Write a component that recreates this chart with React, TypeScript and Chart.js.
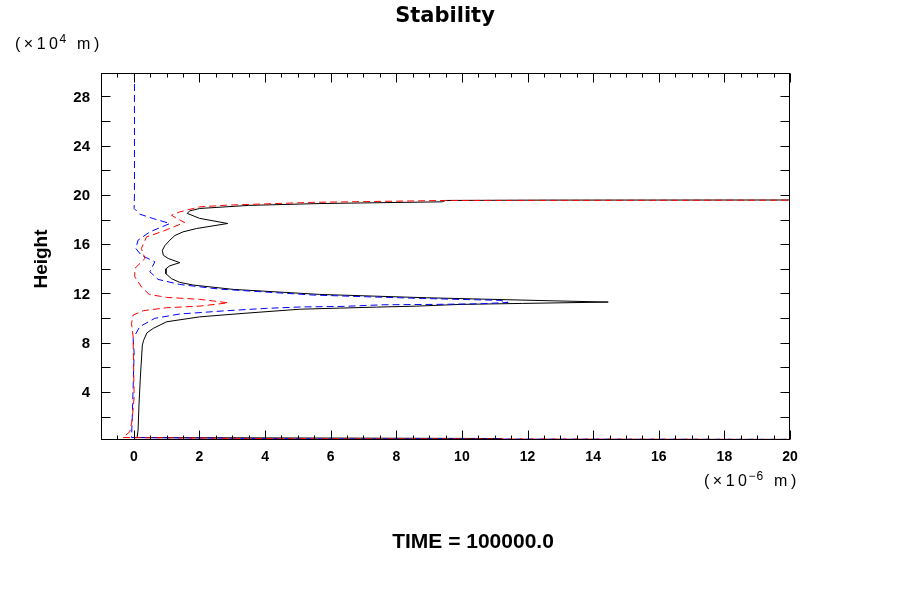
import React, { useEffect, useRef } from "react";
import { Chart, registerables } from "chart.js";

Chart.register(...registerables);

// Profiles: x value (×10^-6 m) vs height (×10^4 m), listed from top to bottom
const blackX = [30, 12.5, 9.5, 9.4, 5.67, 3.5, 2.01, 1.7, 1.63, 2.0, 2.86, 1.91, 1.5, 1.25, 1.1, 0.95, 0.87, 0.9, 1.05, 1.4, 1.1, 0.98, 0.98, 1.15, 1.4, 1.81, 3.03, 5.67, 8.92, 12.78, 14.46, 11.85, 9.94, 8.62, 7.4, 6.28, 5.06, 3.33, 2.01, 1.0, 0.59, 0.4, 0.3, 0.26, 0.2, 0.16, 0.13, 0.1, 11.2, 11.3, 30];
const blackH = [19.6, 19.58, 19.55, 19.44, 19.3, 19.15, 18.9, 18.7, 18.5, 18.1, 17.68, 17.27, 17.0, 16.7, 16.33, 15.9, 15.5, 15.1, 14.84, 14.5, 14.25, 14.0, 13.6, 13.2, 12.9, 12.68, 12.33, 11.92, 11.65, 11.4, 11.3, 11.19, 11.11, 10.97, 10.89, 10.81, 10.72, 10.38, 10.1, 9.7, 9.16, 8.8, 8.2, 7.8, 5.2, 3.1, 0.9, 0.3, 0.22, 0.12, 0.1];

const redX = [30, 9.5, 5.5, 2.83, 2.01, 1.4, 1.15, 1.3, 1.55, 0.84, 0.39, 0.23, 0.34, 0.03, 0.03, 0.23, 0.47, 1.0, 2.01, 2.88, 2.01, 1.0, 0.29, -0.02, -0.07, -0.02, -0.02, 0.01, -0.05, -0.12, -0.33, 5, 30];
const redH = [19.6, 19.55, 19.4, 19.17, 19.03, 18.62, 18.35, 18.1, 17.76, 17.0, 16.6, 15.65, 14.84, 14.03, 13.35, 12.54, 11.92, 11.68, 11.52, 11.24, 10.97, 10.84, 10.6, 10.25, 9.57, 8.49, 8.2, 3.6, 1.73, 0.78, 0.3, 0.2, 0.12];

const blueX = [0.02, 0.02, 0.01, 0.18, 0.59, 1.1, 0.49, 0.13, 0.06, 0.23, 0.54, 0.64, 0.49, 0.74, 1.4, 2.62, 5.47, 7.09, 9.13, 11.16, 11.41, 10.55, 9.13, 7.6, 6.38, 5.06, 4.05, 2.83, 1.4, 0.64, 0.18, -0.02, 0.01, -0.02, -0.05, -0.07, 5, 30];
const blueH = [29.9, 20.1, 18.9, 18.44, 18.08, 17.68, 17.0, 16.33, 15.65, 15.1, 14.7, 14.57, 13.76, 13.14, 12.73, 12.35, 11.87, 11.73, 11.57, 11.44, 11.27, 11.16, 11.11, 11.08, 10.95, 10.9, 10.79, 10.6, 10.33, 9.98, 9.3, 8.35, 7.13, 4.43, 1.73, 0.3, 0.2, 0.12];

const xMajorTicks = [0, 2, 4, 6, 8, 10, 12, 14, 16, 18, 20];
const xMinorTicks = [-1, -0.5, 0.5, 1, 1.5, 2.5, 3, 3.5, 4.5, 5, 5.5, 6.5, 7, 7.5, 8.5, 9, 9.5, 10.5, 11, 11.5, 12.5, 13, 13.5, 14.5, 15, 15.5, 16.5, 17, 17.5, 18.5, 19, 19.5];
const yTicks = [2, 4, 6, 8, 10, 12, 14, 16, 18, 20, 22, 24, 26, 28];
const yTickLabels = [4, 8, 12, 16, 20, 24, 28];

const titleText = "Stability";
const yAxisTitle = "Height";
const timeText = "TIME = 100000.0";

const toPoints = (xs: number[], hs: number[]) => xs.map((x, i) => ({ x, y: hs[i] }));

const decorPlugin = {
  id: "decor",
  afterDraw(chart: any) {
    const ctx = chart.ctx as CanvasRenderingContext2D;
    const xs = chart.scales.x;
    const ys = chart.scales.y;
    const a = chart.chartArea;
    ctx.save();
    ctx.strokeStyle = "#000";
    ctx.lineWidth = 1;
    ctx.setLineDash([]);
    ctx.strokeRect(Math.round(a.left) + 0.5, Math.round(a.top) + 0.5, Math.round(a.right - a.left) - 1, Math.round(a.bottom - a.top) - 1);
    const L = Math.round(a.left) + 0.5;
    const R = Math.round(a.right) - 0.5;
    const T = Math.round(a.top) + 0.5;
    const B = Math.round(a.bottom) - 0.5;
    ctx.beginPath();
    const xt = (v: number, len: number) => {
      const p = Math.round(xs.getPixelForValue(v)) + 0.5;
      ctx.moveTo(p, B);
      ctx.lineTo(p, B - len);
      ctx.moveTo(p, T);
      ctx.lineTo(p, T + len);
    };
    xMajorTicks.forEach((v) => xt(v, 9));
    xMinorTicks.forEach((v) => xt(v, 4));
    yTicks.forEach((v) => {
      const p = Math.round(ys.getPixelForValue(v)) + 0.5;
      ctx.moveTo(L, p);
      ctx.lineTo(L + 9, p);
      ctx.moveTo(R, p);
      ctx.lineTo(R - 9, p);
    });
    ctx.stroke();

    ctx.fillStyle = "#000";
    ctx.font = "bold 14px 'Liberation Sans', Arial, sans-serif";
    ctx.textAlign = "center";
    ctx.textBaseline = "alphabetic";
    xMajorTicks.forEach((v) => {
      ctx.fillText(String(v), xs.getPixelForValue(v), 461);
    });
    ctx.font = "bold 15px 'Liberation Sans', Arial, sans-serif";
    ctx.textAlign = "right";
    ctx.textBaseline = "middle";
    yTickLabels.forEach((v) => {
      ctx.fillText(String(v), 90, ys.getPixelForValue(v) + 1);
    });

    ctx.textAlign = "center";
    ctx.textBaseline = "alphabetic";
    ctx.font = "bold 21px 'DejaVu Sans', sans-serif";
    ctx.fillText(titleText, 445, 22);
    ctx.font = "bold 21px 'Liberation Sans', Arial, sans-serif";
    ctx.fillText(timeText, 473, 548);

    ctx.save();
    ctx.translate(47, 259);
    ctx.rotate(-Math.PI / 2);
    ctx.font = "bold 19px 'Liberation Sans', Arial, sans-serif";
    ctx.fillText(yAxisTitle, 0, 0);
    ctx.restore();

    const unit = (x0: number, base: number, sup: string) => {
      ctx.textAlign = "left";
      (ctx as any).letterSpacing = "3.5px";
      ctx.font = "16px 'Liberation Sans', Arial, sans-serif";
      const p1 = "(\u00d710";
      ctx.fillText(p1, x0, base);
      let x = x0 + ctx.measureText(p1).width - 2;
      ctx.font = "12px 'Liberation Sans', Arial, sans-serif";
      (ctx as any).letterSpacing = "1px";
      ctx.fillText(sup, x, base - 6);
      x += ctx.measureText(sup).width + 2;
      ctx.font = "16px 'Liberation Sans', Arial, sans-serif";
      (ctx as any).letterSpacing = "3.5px";
      ctx.fillText(" m)", x, base);
      (ctx as any).letterSpacing = "0px";
    };
    unit(15, 49, "4");
    unit(704, 486, "\u22126");
    ctx.restore();
  },
};

export default function App() {
  const ref = useRef<HTMLCanvasElement | null>(null);
  useEffect(() => {
    if (!ref.current) return;
    const chart = new Chart(ref.current, {
      type: "scatter",
      data: {
        datasets: [
          {
            label: "black",
            data: toPoints(blackX, blackH),
            showLine: true,
            borderColor: "#000000",
            borderWidth: 1,
            pointRadius: 0,
            tension: 0,
            order: 2,
          },
          {
            label: "blue",
            data: toPoints(blueX, blueH),
            showLine: true,
            borderColor: "#0000ff",
            borderWidth: 1,
            borderDash: [7, 4],
            pointRadius: 0,
            tension: 0,
            order: 1,
          },
          {
            label: "red",
            data: toPoints(redX, redH),
            showLine: true,
            borderColor: "#ff0000",
            borderWidth: 1,
            borderDash: [7, 4],
            pointRadius: 0,
            tension: 0,
            order: 0,
          },
        ],
      },
      options: {
        animation: false,
        responsive: false,
        events: [],
        layout: { padding: { top: 73, right: 110, left: 0, bottom: 0 } },
        plugins: { legend: { display: false }, tooltip: { enabled: false }, title: { display: false } },
        scales: {
          x: {
            type: "linear",
            min: -1,
            max: 20,
            ticks: { display: false },
            grid: { display: false },
            border: { display: false },
            afterFit: (s: any) => {
              s.height = 160;
            },
          },
          y: {
            type: "linear",
            min: 0.1,
            max: 29.9,
            ticks: { display: false },
            grid: { display: false },
            border: { display: false },
            afterFit: (s: any) => {
              s.width = 101;
            },
          },
        },
      },
      plugins: [decorPlugin],
    });
    return () => chart.destroy();
  }, []);
  return (
    <div style={{ position: "fixed", left: 0, top: 0, width: 900, height: 600, background: "#fff" }}>
      <canvas ref={ref} width={900} height={600} style={{ width: 900, height: 600, display: "block" }} />
    </div>
  );
}
